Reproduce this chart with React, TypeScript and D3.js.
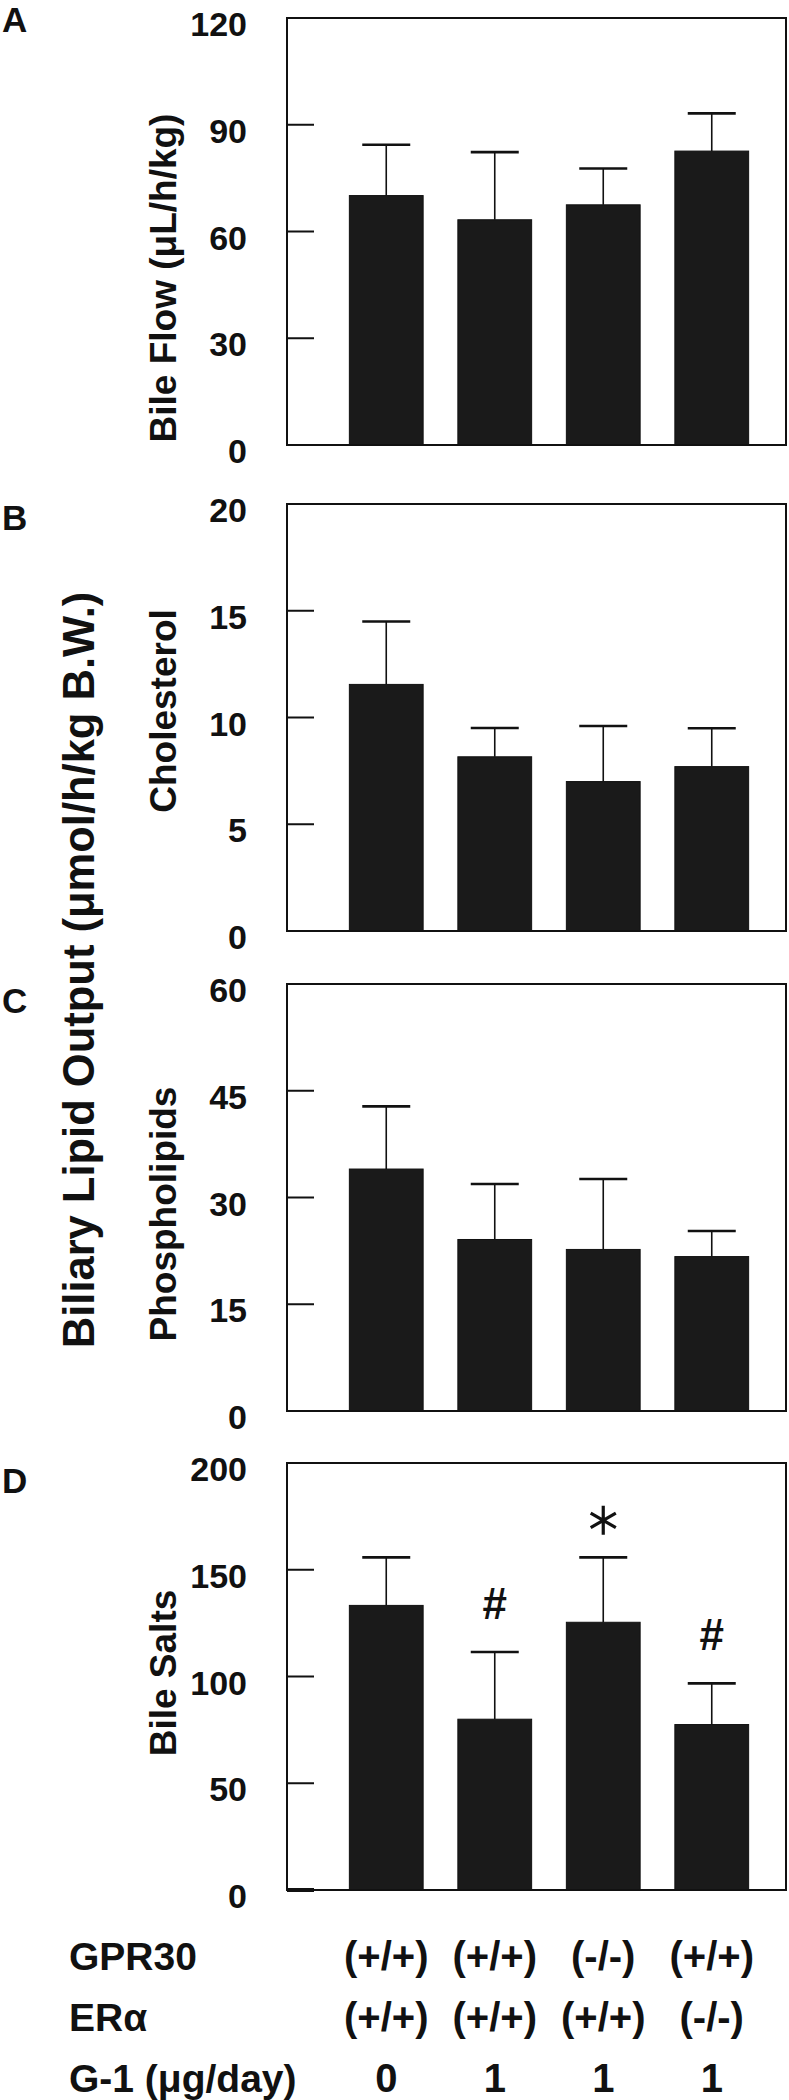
import React from "react";
import * as d3 from "d3";

const groups = ["G1", "G2", "G3", "G4"];
const gpr30Labels = ["(+/+)", "(+/+)", "(-/-)", "(+/+)"];
const eraLabels = ["(+/+)", "(+/+)", "(+/+)", "(-/-)"];
const g1Doses = ["0", "1", "1", "1"];

const bileFlowMean = [70.1, 63.3, 67.5, 82.6];
const bileFlowErr = [14.3, 19.0, 10.2, 10.6];
const bileFlowTicks = [0, 30, 60, 90, 120];

const cholMean = [11.55, 8.16, 7.0, 7.7];
const cholErr = [2.95, 1.35, 2.6, 1.8];
const cholTicks = [0, 5, 10, 15, 20];

const phosMean = [34.0, 24.1, 22.7, 21.7];
const phosErr = [8.8, 7.8, 9.9, 3.6];
const phosTicks = [0, 15, 30, 45, 60];

const saltMean = [133.3, 80.0, 125.4, 77.5];
const saltErr = [22.5, 31.5, 30.4, 19.3];
const saltTicks = [0, 50, 100, 150, 200];
const saltMarks = ["", "#", "*", "#"];

const panelLetters = ["A", "B", "C", "D"];
const panelTitles = ["Bile Flow (μL/h/kg)", "Cholesterol", "Phospholipids", "Bile Salts"];
const bigTitle = "Biliary Lipid Output (μmol/h/kg B.W.)";
const rowLabels = ["GPR30", "ERα", "G-1 (μg/day)"];

const FONT = "'Liberation Sans', Arial, Helvetica, sans-serif";

const panels = [
  { mean: bileFlowMean, err: bileFlowErr, ticks: bileFlowTicks, top: 18, letterY: 32, titleY: 278, marks: null },
  { mean: cholMean, err: cholErr, ticks: cholTicks, top: 504, letterY: 530, titleY: 711, marks: null },
  { mean: phosMean, err: phosErr, ticks: phosTicks, top: 984, letterY: 1013, titleY: 1214, marks: null },
  { mean: saltMean, err: saltErr, ticks: saltTicks, top: 1463, letterY: 1493, titleY: 1673, marks: saltMarks },
];

const PLOT_H = 427;
const FRAME_L = 287;
const FRAME_R = 786;

export default function App() {
  const x = d3.scaleBand<string>().domain(groups).range([332, 766]).paddingInner(0.32).paddingOuter(0.16);
  const bw = x.bandwidth();
  const cap = 24;

  return (
    <svg
      width={789}
      height={2100}
      style={{ position: "absolute", left: 0, top: 0, display: "block", background: "#fff" }}
      fontFamily={FONT}
      fontWeight="bold"
    >
      <rect x={0} y={0} width={789} height={2100} fill="#fff" />
      {panels.map((p, pi) => {
        const y = d3
          .scaleLinear()
          .domain([0, p.ticks[p.ticks.length - 1]])
          .range([p.top + PLOT_H, p.top]);
        return (
          <g key={pi}>
            <text x={2} y={p.letterY} fontSize={35} fill="#111">
              {panelLetters[pi]}
            </text>
            <text
              transform={`translate(176,${p.titleY}) rotate(-90)`}
              textAnchor="middle"
              fontSize={37}
              fill="#111"
            >
              {panelTitles[pi]}
            </text>
            {groups.map((g, i) => {
              const cx = (x(g) as number) + bw / 2;
              const yTop = y(p.mean[i]);
              const yErr = y(p.mean[i] + p.err[i]);
              return (
                <g key={g}>
                  <line x1={cx} x2={cx} y1={yTop} y2={yErr} stroke="#111" strokeWidth={1.6} />
                  <line x1={cx - cap} x2={cx + cap} y1={yErr} y2={yErr} stroke="#111" strokeWidth={2.6} />
                  <rect
                    x={x(g)}
                    y={yTop}
                    width={bw}
                    height={y(0) - yTop}
                    fill="#1a1a1a"
                    stroke="#111"
                    strokeWidth={1}
                  />
                </g>
              );
            })}
            <rect
              x={FRAME_L}
              y={p.top}
              width={FRAME_R - FRAME_L}
              height={PLOT_H}
              fill="none"
              stroke="#111"
              strokeWidth={2}
            />
            {p.ticks.map((t) => (
              <g key={t}>
                <line
                  x1={FRAME_L}
                  x2={FRAME_L + 27}
                  y1={y(t)}
                  y2={y(t)}
                  stroke="#111"
                  strokeWidth={pi === 3 && t === 0 ? 4 : 2}
                />
                <text x={247} y={y(t) + 18} textAnchor="end" fontSize={34} fill="#111">
                  {t}
                </text>
              </g>
            ))}
            {p.marks &&
              groups.map((g, i) => {
                const m = p.marks![i];
                if (!m) return null;
                const cx = (x(g) as number) + bw / 2;
                const yErr = y(p.mean[i] + p.err[i]);
                if (m === "*") {
                  const sym = d3.symbol().type(d3.symbolAsterisk).size(595)();
                  return (
                    <path
                      key={g}
                      d={sym || ""}
                      transform={`translate(${cx},${yErr - 37})`}
                      fill="none"
                      stroke="#111"
                      strokeWidth={3.2}
                    />
                  );
                }
                return (
                  <text key={g} x={cx} y={yErr - 33} textAnchor="middle" fontSize={44} fill="#111">
                    {m}
                  </text>
                );
              })}
          </g>
        );
      })}

      <text
        transform={`translate(94,970) rotate(-90)`}
        textAnchor="middle"
        fontSize={43.5}
        fill="#111"
      >
        {bigTitle}
      </text>

      {rowLabels.map((r, ri) => (
        <text key={r} x={69} y={1970 + ri * 61} fontSize={39} fill="#111">
          {r}
        </text>
      ))}
      {[gpr30Labels, eraLabels, g1Doses].map((row, ri) =>
        row.map((lab, i) => (
          <text
            key={`${ri}-${i}`}
            x={(x(groups[i]) as number) + bw / 2}
            y={1970 + ri * 61}
            textAnchor="middle"
            fontSize={40}
            fill="#111"
          >
            {lab}
          </text>
        ))
      )}
    </svg>
  );
}
